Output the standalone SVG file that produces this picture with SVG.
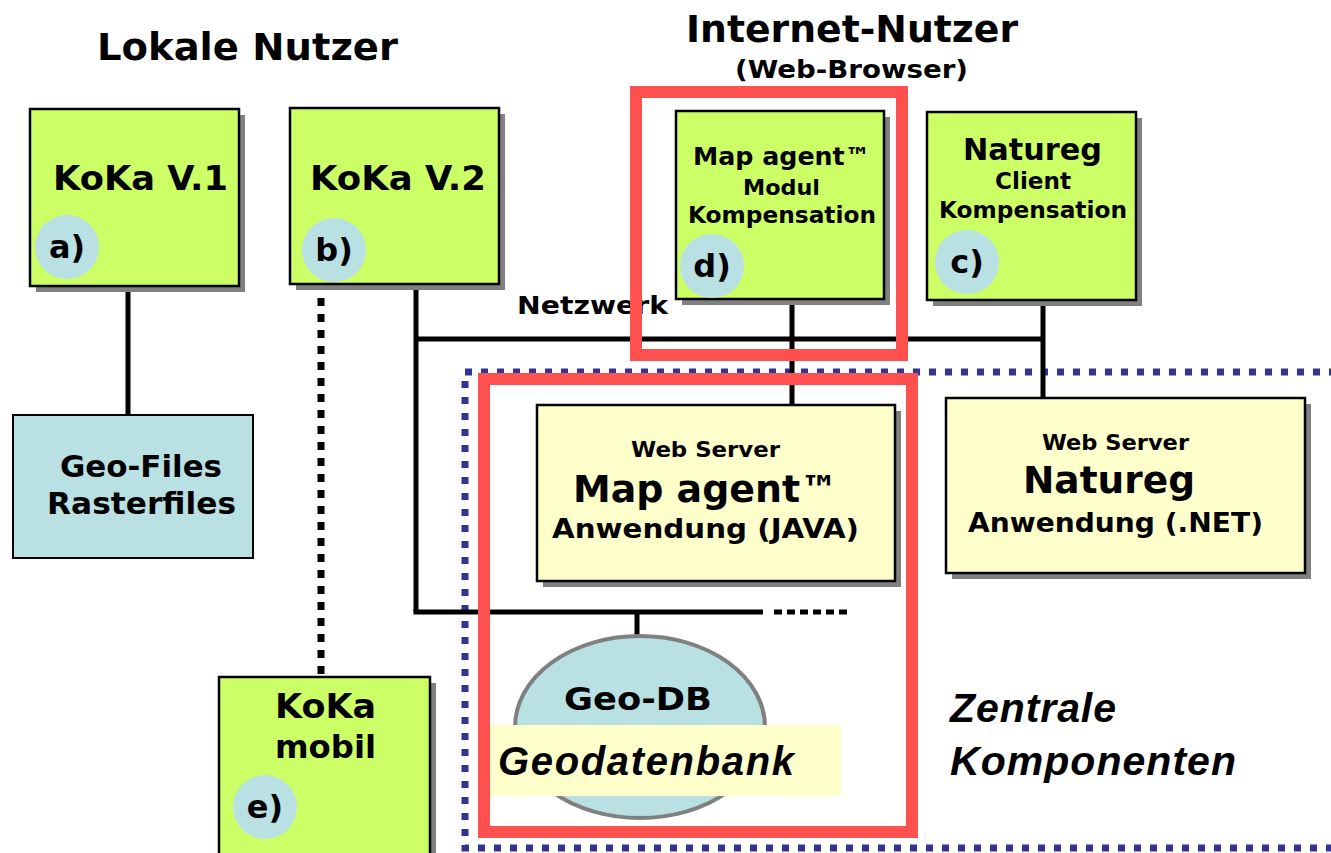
<svg xmlns="http://www.w3.org/2000/svg" width="1331" height="853" viewBox="0 0 1331 853">
<style>
.g{fill:#ccff66;stroke:#000;stroke-width:2.5}
.y{fill:#ffffcc;stroke:#000;stroke-width:2.5}
.b{fill:#b9e0e3;stroke:#000;stroke-width:2}
.sh{fill:#808080}
.c{fill:#b9e0e3}
.t{font-family:"DejaVu Sans","Liberation Sans",sans-serif;font-weight:bold;fill:#000}
.l{font-family:"DejaVu Sans","Liberation Sans",sans-serif;font-weight:bold;fill:#000;font-size:32px;text-anchor:middle}
.i{font-family:"Liberation Sans",Arial,sans-serif;font-weight:bold;font-style:italic;fill:#000}
.ln{stroke:#000;stroke-width:5;fill:none}
.red{fill:none;stroke:#ff5050;stroke-width:12}
</style>
<rect width="1331" height="853" fill="#fff"/>
<g id="titles">
<text class="t" x="97" y="60" font-size="37" textLength="301" lengthAdjust="spacingAndGlyphs">Lokale Nutzer</text>
<text class="t" x="686" y="42" font-size="37" textLength="332" lengthAdjust="spacingAndGlyphs">Internet-Nutzer</text>
<text class="t" x="735" y="78" font-size="25" textLength="233" lengthAdjust="spacingAndGlyphs">(Web-Browser)</text>
<text class="t" x="517" y="314" font-size="25" textLength="151" lengthAdjust="spacingAndGlyphs">Netzwerk</text>
<text class="i" x="950" y="722" font-size="41" textLength="166">Zentrale</text>
<text class="i" x="950" y="775" font-size="41" textLength="286">Komponenten</text>
</g>
<rect id="zentrale-border" x="465" y="372" width="900" height="476" fill="none" stroke="#333399" stroke-width="7" stroke-dasharray="7 9"/>
<g id="connectors">
<line class="ln" x1="128" y1="286" x2="128" y2="416"/>
<line class="ln" x1="416" y1="286" x2="416" y2="612"/>
<line class="ln" x1="413.5" y1="612" x2="763" y2="612"/>
<line x1="774" y1="612" x2="851" y2="612" stroke="#000" stroke-width="5" stroke-dasharray="8 5"/>
<line class="ln" x1="637" y1="612" x2="637" y2="637"/>
<line class="ln" x1="416" y1="339" x2="1045" y2="339"/>
<line class="ln" x1="792" y1="293" x2="792" y2="405"/>
<line class="ln" x1="1043" y1="292" x2="1043" y2="399"/>
<line x1="321" y1="298" x2="321" y2="674" stroke="#000" stroke-width="7" stroke-dasharray="8 8"/>
</g>
<g id="koka-v1">
<rect class="sh" x="36" y="115" width="209" height="177"/>
<rect class="g" x="30" y="109" width="209" height="177"/>
<circle class="c" cx="67" cy="247" r="32"/>
<text class="t" x="53" y="190" font-size="33" textLength="175" lengthAdjust="spacingAndGlyphs">KoKa V.1</text>
<text class="l" x="67" y="258">a)</text>
</g>
<g id="koka-v2">
<rect class="sh" x="296" y="114" width="209" height="176"/>
<rect class="g" x="290" y="108" width="209" height="176"/>
<circle class="c" cx="334" cy="250" r="32"/>
<text class="t" x="310" y="190" font-size="33" textLength="176" lengthAdjust="spacingAndGlyphs">KoKa V.2</text>
<text class="l" x="334" y="261">b)</text>
</g>
<g id="geo-files">
<rect class="b" x="13" y="415" width="240" height="143"/>
<text class="t" x="60" y="477" font-size="31" textLength="162" lengthAdjust="spacingAndGlyphs">Geo-Files</text>
<text class="t" x="47" y="514" font-size="31" textLength="189" lengthAdjust="spacingAndGlyphs">Rasterfiles</text>
</g>
<g id="map-agent-modul">
<rect class="sh" x="682" y="117" width="208" height="188"/>
<rect class="g" x="676" y="111" width="208" height="188"/>
<circle class="c" cx="712" cy="266" r="32"/>
<text class="t" x="693" y="165" font-size="25" textLength="177" lengthAdjust="spacingAndGlyphs">Map agent™</text>
<text class="t" x="743" y="195" font-size="22" textLength="77" lengthAdjust="spacingAndGlyphs">Modul</text>
<text class="t" x="688" y="223" font-size="23" textLength="188" lengthAdjust="spacingAndGlyphs">Kompensation</text>
<text class="l" x="712" y="277">d)</text>
</g>
<g id="natureg-client">
<rect class="sh" x="933" y="118" width="209" height="188"/>
<rect class="g" x="927" y="112" width="209" height="188"/>
<circle class="c" cx="967" cy="262" r="32"/>
<text class="t" x="963" y="160" font-size="30" textLength="139" lengthAdjust="spacingAndGlyphs">Natureg</text>
<text class="t" x="995" y="189" font-size="23" textLength="76" lengthAdjust="spacingAndGlyphs">Client</text>
<text class="t" x="939" y="218" font-size="23" textLength="188" lengthAdjust="spacingAndGlyphs">Kompensation</text>
<text class="l" x="967" y="273">c)</text>
</g>
<g id="webserver-mapagent">
<rect class="sh" x="543" y="411" width="358" height="176"/>
<rect class="y" x="537" y="405" width="358" height="176"/>
<text class="t" x="631" y="457" font-size="21" textLength="149" lengthAdjust="spacingAndGlyphs">Web Server</text>
<text class="t" x="573" y="502" font-size="37" textLength="265" lengthAdjust="spacingAndGlyphs">Map agent™</text>
<text class="t" x="552" y="538" font-size="27" textLength="307" lengthAdjust="spacingAndGlyphs">Anwendung (JAVA)</text>
</g>
<g id="webserver-natureg">
<rect class="sh" x="952" y="404" width="359" height="175"/>
<rect class="y" x="946" y="398" width="359" height="175"/>
<text class="t" x="1042" y="450" font-size="21" textLength="147" lengthAdjust="spacingAndGlyphs">Web Server</text>
<text class="t" x="1023" y="493" font-size="37" textLength="172" lengthAdjust="spacingAndGlyphs">Natureg</text>
<text class="t" x="968" y="532" font-size="27" textLength="295" lengthAdjust="spacingAndGlyphs">Anwendung (.NET)</text>
</g>
<g id="geo-db">
<ellipse cx="640" cy="727" rx="125" ry="91" fill="#b9e0e3" stroke="#808080" stroke-width="4"/>
<rect x="484" y="725" width="357" height="71" fill="#ffffcc"/>
<text class="t" x="564" y="710" font-size="32" textLength="148" lengthAdjust="spacingAndGlyphs">Geo-DB</text>
<text class="i" x="498" y="775" font-size="40" textLength="296">Geodatenbank</text>
</g>
<g id="koka-mobil">
<rect class="sh" x="225" y="683" width="211" height="180"/>
<rect class="g" x="219" y="677" width="211" height="186"/>
<circle class="c" cx="265" cy="807" r="32"/>
<text class="t" x="275" y="718" font-size="33" textLength="101" lengthAdjust="spacingAndGlyphs">KoKa</text>
<text class="t" x="275" y="758" font-size="32" textLength="101" lengthAdjust="spacingAndGlyphs">mobil</text>
<text class="l" x="265" y="818">e)</text>
</g>
<g id="highlights">
<rect class="red" x="636" y="92" width="266" height="263"/>
<rect class="red" x="484" y="379" width="428" height="453"/>
</g>
</svg>
